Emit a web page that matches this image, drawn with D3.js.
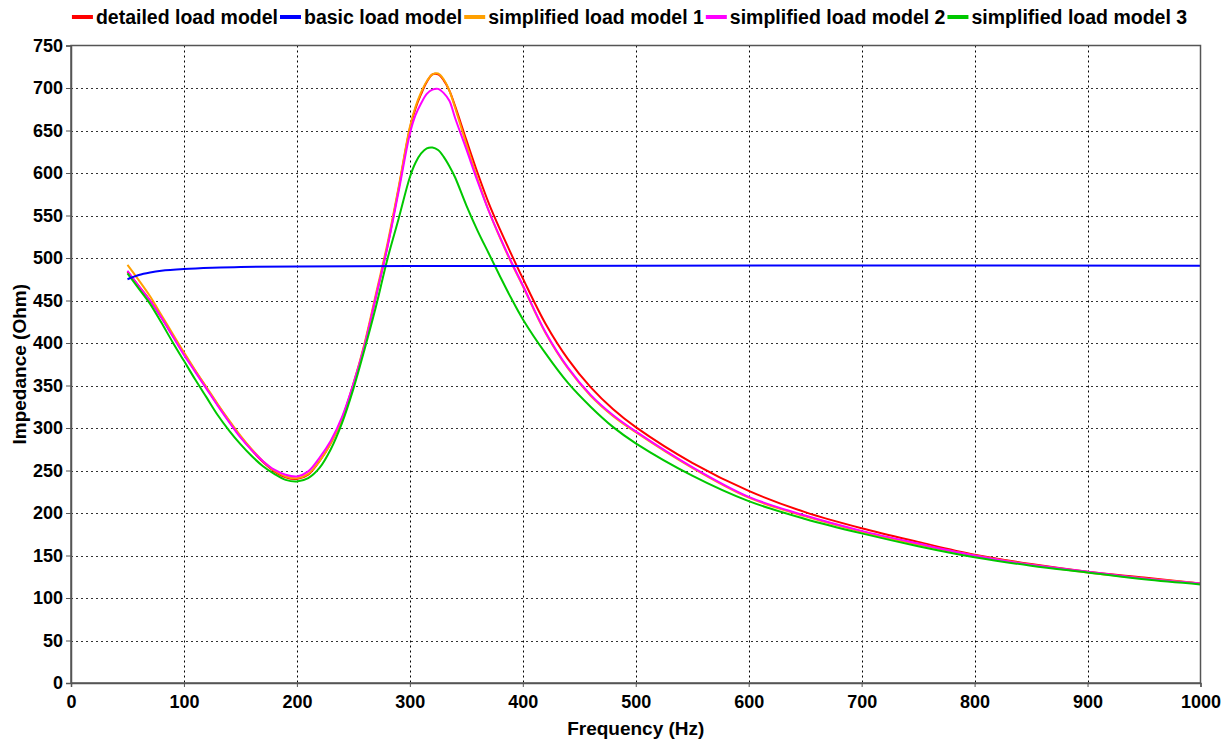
<!DOCTYPE html>
<html>
<head>
<meta charset="utf-8">
<script src="https://cdn.jsdelivr.net/npm/d3@7"></script>
<style>
  html, body { margin: 0; padding: 0; background: #fff; }
  svg { display: block; }
  text { font-family: "Liberation Sans", Arial, sans-serif; font-weight: bold; fill: #000; }
</style>
</head>
<body>
<svg id="chart" width="1231" height="742"></svg>
<script>
// ---- data ----
const freqs = [50,60,70,80,90,100,110,120,130,140,150,160,170,180,190,200,210,220,230,240,250,260,270,280,290,300,305,310,315,320,325,330,335,340,350,360,370,380,390,400,420,440,460,480,500,550,600,650,700,750,800,850,900,950,1000];

const detailed = [484,467,450,430,409,388,367,347,327,308,290,274,260,249,242,240,245,261,282,311,351,398,455,513,581,652,676,693,707,716,716,709,697,679,639,600,564,533,504,476,423,381,348,322,301,259,226,201,182,166,151,140,131,124,117];

const basicFreqs = [50,60,70,80,100,125,150,200,300,500,1000];
const basic = [475,480,483,485,487,488.5,489.5,490,490.5,491,491];

const simplified1 = [492,474,455,433,411,389,368,348,328,309,291,275,261,250,243,241,246,261,282,311,352,400,458,516,583,654,678,695,708,716,717,710,697,677,634,593,555,523,494,467,412,370,338,314,295,253,218,196,178,163,150,139,130,123,117];

const simplified2 = [485,467,450,430,408,386,366,346,326,307,289,274,261,251,245,243,249,265,285,313,352,398,455,512,578,646,668,682,693,698,699,694,685,665,628,590,555,524,495,468,413,371,339,315,296,254,219,197,179,164,150,139,131,123,117];

const simplified3 = [482,464,446,424,401,379,357,336,315,297,281,267,255,246,239,237,241,253,275,306,346,393,443,498,546,595,612,623,629,630,627,619,608,595,562,532,505,478,452,428,388,353,325,301,282,244,214,193,176,161,148,138,130,122,116];

const xTicks = [0,100,200,300,400,500,600,700,800,900,1000];
const yTicks = [0,50,100,150,200,250,300,350,400,450,500,550,600,650,700,750];

const seriesNames = ["detailed load model","basic load model","simplified load model 1","simplified load model 2","simplified load model 3"];
const seriesColors = ["#ff0000","#0000ff","#ffa000","#ff00ff","#00c800"];

// ---- chart ----
const svg = d3.select("#chart");
const x = d3.scaleLinear().domain([0,1000]).range([71,1200.5]);
const y = d3.scaleLinear().domain([0,750]).range([683,45.5]);

// grid
const grid = svg.append("g");
grid.selectAll("line.v").data(xTicks.slice(1,-1)).enter().append("line")
  .attr("x1", d => Math.round(x(d))+0.5).attr("x2", d => Math.round(x(d))+0.5)
  .attr("y1", y(750)).attr("y2", y(0))
  .attr("stroke", "#000").attr("stroke-width", 1).attr("stroke-dasharray", "2,3");
grid.selectAll("line.h").data(yTicks.slice(1,-1)).enter().append("line")
  .attr("y1", d => Math.round(y(d))+0.5).attr("y2", d => Math.round(y(d))+0.5)
  .attr("x1", x(0)).attr("x2", x(1000))
  .attr("stroke", "#333").attr("stroke-width", 1).attr("stroke-dasharray", "2,3");

// lines
const line = d3.line().x(d => x(d[0])).y(d => y(d[1])).curve(d3.curveCatmullRom.alpha(0.5));
const seriesData = [
  freqs.map((f,i) => [f, detailed[i]]),
  basicFreqs.map((f,i) => [f, basic[i]]),
  freqs.map((f,i) => [f, simplified1[i]]),
  freqs.map((f,i) => [f, simplified2[i]]),
  freqs.map((f,i) => [f, simplified3[i]])
];
const drawOrder = [0,2,3,4,1];
const lines = svg.append("g");
drawOrder.forEach(k => {
  lines.append("path").datum(seriesData[k])
    .attr("d", line).attr("fill", "none")
    .attr("stroke", seriesColors[k]).attr("stroke-width", 2);
});

// frame
svg.append("rect").attr("x", x(0)).attr("y", y(750))
  .attr("width", x(1000)-x(0)).attr("height", y(0)-y(750))
  .attr("fill", "none").attr("stroke", "#555").attr("stroke-width", 1.5);

// axes
const xAxis = svg.append("g").attr("transform", `translate(0,${y(0)})`)
  .call(d3.axisBottom(x).tickValues(xTicks).tickSize(4).tickPadding(8).tickFormat(d3.format("d")));
const yAxis = svg.append("g").attr("transform", `translate(${x(0)},0)`)
  .call(d3.axisLeft(y).tickValues(yTicks).tickSize(5).tickPadding(3).tickFormat(d3.format("d")));
[xAxis, yAxis].forEach(a => {
  a.select(".domain").attr("stroke", "#555").attr("stroke-width", 1.5);
  a.selectAll(".tick line").attr("stroke", "#555");
  a.selectAll("text").style("font-size", "18px").style("font-family", "'Liberation Sans', Arial, sans-serif").style("font-weight", "bold").attr("fill", "#000");
});

// axis titles
svg.append("text").attr("x", (x(0)+x(1000))/2).attr("y", 735)
  .attr("text-anchor", "middle").style("font-size", "19px").text("Frequency (Hz)");
svg.append("text").attr("transform", `translate(26,${(y(0)+y(750))/2}) rotate(-90)`)
  .attr("text-anchor", "middle").style("font-size", "19px").text("Impedance (Ohm)");

// legend
const legend = svg.append("g");
let cx = 0;
seriesNames.forEach((name, i) => {
  const g = legend.append("g");
  g.append("line").attr("x1", 0).attr("x2", 21).attr("y1", 0).attr("y2", 0)
    .attr("stroke", seriesColors[i]).attr("stroke-width", 4);
  const t = g.append("text").attr("x", 24).attr("y", 7).style("font-size", "19.5px").text(name);
  const w = 24 + t.node().getComputedTextLength() + 2;
  g.attr("transform", `translate(${cx},0)`);
  cx += w;
});
const legendStart = 630.5 - cx / 2;
legend.attr("transform", `translate(${legendStart},17)`);
</script>
</body>
</html>
